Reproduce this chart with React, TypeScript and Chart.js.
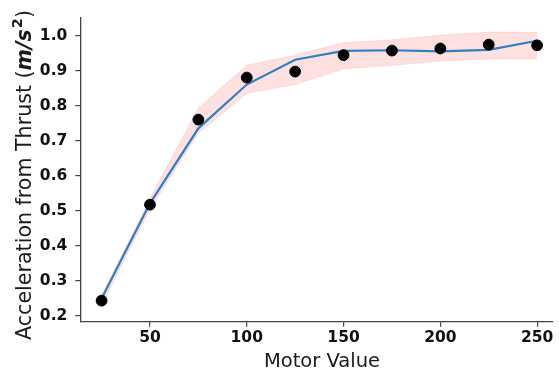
import React, { useEffect, useRef } from 'react';
import { Chart, registerables } from 'chart.js';

Chart.register(...registerables);

const motorValues = [25, 50, 75, 100, 125, 150, 175, 200, 225, 250];
const measuredAccel = [0.244, 0.518, 0.761, 0.881, 0.898, 0.945, 0.958, 0.964, 0.975, 0.973];
const fitAccel = [0.25, 0.522, 0.736, 0.861, 0.932, 0.957, 0.959, 0.956, 0.96, 0.986];
const bandUpper = [0.258, 0.535, 0.794, 0.916, 0.945, 0.98, 0.989, 1.002, 1.011, 1.01];
const bandLower = [0.232, 0.505, 0.722, 0.836, 0.861, 0.906, 0.916, 0.928, 0.934, 0.934];
const xTicks = [50, 100, 150, 200, 250];
const yTicks = [0.2, 0.3, 0.4, 0.5, 0.6, 0.7, 0.8, 0.9, 1.0];
const xTitle = 'Motor Value';
const yTitleLead = 'Acceleration from Thrust (';
const yTitleUnit = 'm/s';
const yTitleSup = '2';
const yTitleTail = ')';

const FONT = '"DejaVu Sans", sans-serif';

const titlePlugin = {
  id: 'customTitles',
  afterDraw(chart: any) {
    const ctx = chart.ctx as CanvasRenderingContext2D;
    ctx.save();
    ctx.fillStyle = '#1a1a1a';
    ctx.font = `19.5px ${FONT}`;
    ctx.textAlign = 'center';
    ctx.textBaseline = 'alphabetic';
    ctx.fillText(xTitle, 322, 367);
    const fNormal = `20.6px ${FONT}`;
    const fBI = `italic bold 20.6px ${FONT}`;
    const fSup = `bold 14.5px ${FONT}`;
    ctx.font = fNormal;
    const w1 = ctx.measureText(yTitleLead).width;
    const w4 = ctx.measureText(yTitleTail).width;
    ctx.font = fBI;
    const w2 = ctx.measureText(yTitleUnit).width;
    ctx.font = fSup;
    const w3 = ctx.measureText(yTitleSup).width;
    const total = w1 + w2 + w3 + w4 + 1;
    ctx.translate(30.5, 175);
    ctx.rotate(-Math.PI / 2);
    ctx.textAlign = 'left';
    let x = -total / 2;
    ctx.font = fNormal;
    ctx.fillText(yTitleLead, x, 0);
    x += w1;
    ctx.font = fBI;
    ctx.fillText(yTitleUnit, x, 0);
    x += w2 + 1;
    ctx.font = fSup;
    ctx.fillText(yTitleSup, x, -8.5);
    x += w3;
    ctx.font = fNormal;
    ctx.fillText(yTitleTail, x, 0);
    ctx.restore();
  },
};

export default function App() {
  const ref = useRef<HTMLCanvasElement | null>(null);
  useEffect(() => {
    if (!ref.current) return;
    const toPts = (ys: number[]) => motorValues.map((x, i) => ({ x, y: ys[i] }));
    const tickFont = { family: FONT, size: 15.5, weight: 'bold' as const };
    const chart = new Chart(ref.current, {
      type: 'scatter',
      data: {
        datasets: [
          {
            label: 'measured',
            data: toPts(measuredAccel),
            backgroundColor: '#000',
            borderColor: '#000',
            pointRadius: 5.4,
            pointHoverRadius: 5.4,
            showLine: false,
            order: 0,
          },
          {
            label: 'fit',
            data: toPts(fitAccel),
            borderColor: '#2f7fc1',
            borderWidth: 2.2,
            pointRadius: 0,
            showLine: true,
            tension: 0,
            order: 1,
          },
          {
            label: 'upper',
            data: toPts(bandUpper),
            borderColor: 'rgba(255,0,0,0.1)',
            borderWidth: 1,
            backgroundColor: 'rgba(255,0,0,0.12)',
            pointRadius: 0,
            showLine: true,
            tension: 0,
            fill: '+1',
            order: 2,
          },
          {
            label: 'lower',
            data: toPts(bandLower),
            borderColor: 'rgba(255,0,0,0.1)',
            borderWidth: 1,
            pointRadius: 0,
            showLine: true,
            tension: 0,
            fill: false,
            order: 3,
          },
        ],
      },
      options: {
        animation: false,
        responsive: false,
        devicePixelRatio: 1,
        layout: { padding: { top: 5, left: 0, right: 0, bottom: 0 } },
        plugins: { legend: { display: false }, tooltip: { enabled: false } },
        scales: {
          x: {
            type: 'linear',
            min: 14,
            max: 258,
            afterBuildTicks: (s: any) => {
              s.ticks = xTicks.map((v) => ({ value: v }));
            },
            afterFit: (s: any) => {
              s.height = 51.3;
            },
            grid: { drawOnChartArea: false, drawTicks: true, tickLength: 5, color: '#444', lineWidth: 1.2 },
            border: { display: true, color: '#444', width: 1.3 },
            ticks: {
              font: tickFont,
              color: '#111',
              padding: 2,
              maxRotation: 0,
              autoSkip: false,
              callback: (v: any) => String(v),
            },
          },
          y: {
            type: 'linear',
            min: 0.184,
            max: 1.053,
            afterBuildTicks: (s: any) => {
              s.ticks = yTicks.map((v) => ({ value: v }));
            },
            afterFit: (s: any) => {
              s.width = 80.3;
            },
            grid: { drawOnChartArea: false, drawTicks: true, tickLength: 5, color: '#444', lineWidth: 1.2 },
            border: { display: true, color: '#444', width: 1.3 },
            ticks: {
              font: tickFont,
              color: '#111',
              padding: 8,
              autoSkip: false,
              callback: (v: any) => Number(v).toFixed(1),
            },
          },
        },
      },
      plugins: [titlePlugin],
    });
    return () => chart.destroy();
  }, []);
  return (
    <div style={{ position: 'absolute', left: 0, top: 0, width: 559, height: 373, background: '#fff' }}>
      <canvas ref={ref} width={559} height={373} style={{ width: 559, height: 373 }} />
    </div>
  );
}
